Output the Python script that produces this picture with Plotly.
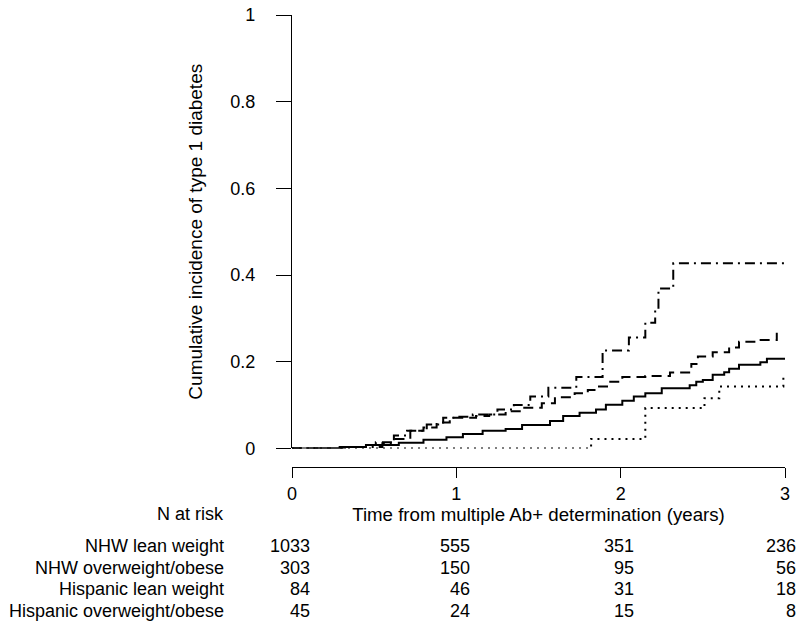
import plotly.graph_objects as go

# ---------------- data ----------------
group_names = ["NHW lean weight", "NHW overweight/obese",
               "Hispanic lean weight", "Hispanic overweight/obese"]

nhw_lean_t = [0, 0.29, 0.45, 0.65, 0.80, 0.94, 1.04, 1.16, 1.30, 1.40, 1.57, 1.65, 1.75,
              1.85, 1.91, 2.01, 2.08, 2.15, 2.25, 2.42, 2.46, 2.50, 2.56, 2.63, 2.66,
              2.72, 2.85, 2.89, 3.0]
nhw_lean_y = [0, 0.003, 0.008, 0.013, 0.020, 0.026, 0.033, 0.041, 0.045, 0.054, 0.063,
              0.075, 0.082, 0.090, 0.101, 0.110, 0.120, 0.127, 0.139, 0.146, 0.154,
              0.158, 0.170, 0.176, 0.184, 0.193, 0.199, 0.207, 0.207]

nhw_ow_t = [0, 0.30, 0.45, 0.51, 0.62, 0.72, 0.80, 0.88, 0.96, 1.12, 1.20, 1.30, 1.40,
            1.52, 1.60, 1.72, 1.80, 1.86, 1.93, 2.01, 2.15, 2.30, 2.43, 2.47, 2.56,
            2.66, 2.72, 2.83, 2.95]
nhw_ow_y = [0, 0.003, 0.008, 0.014, 0.022, 0.041, 0.048, 0.060, 0.071, 0.075, 0.078,
            0.086, 0.094, 0.104, 0.118, 0.127, 0.135, 0.143, 0.154, 0.165, 0.167,
            0.175, 0.195, 0.212, 0.222, 0.233, 0.246, 0.250, 0.267]

hisp_lean_t = [0, 0.35, 0.55, 0.62, 0.70, 0.82, 0.92, 1.00, 1.10, 1.25, 1.35, 1.45,
               1.56, 1.73, 1.89, 2.05, 2.15, 2.21, 2.23, 2.32, 3.0]
hisp_lean_y = [0, 0.003, 0.012, 0.030, 0.041, 0.055, 0.071, 0.073, 0.078, 0.090, 0.100,
               0.120, 0.140, 0.165, 0.226, 0.256, 0.290, 0.320, 0.369, 0.427, 0.427]

hisp_ow_t = [0, 1.82, 2.15, 2.51, 2.60, 2.99]
hisp_ow_y = [0, 0.022, 0.093, 0.116, 0.143, 0.170]

risk_times = [0, 1, 2, 3]
n_risk_nhw_lean = [1033, 555, 351, 236]
n_risk_nhw_ow = [303, 150, 95, 56]
n_risk_hisp_lean = [84, 46, 31, 18]
n_risk_hisp_ow = [45, 24, 15, 8]

y_ticks = [0, 0.2, 0.4, 0.6, 0.8, 1]
y_tick_text = ["0", "0.2", "0.4", "0.6", "0.8", "1"]
x_ticks = [0, 1, 2, 3]

# ---------------- figure ----------------
W, H = 800, 627
ML, MR, MT, MB = 292, 15, 5, 160
FONT = "Liberation Sans, Arial, sans-serif"
FS = 18

def py_to_paper(py):
    return (H - MB - py) / (H - MB - MT)

def px_to_paper(px):
    return (px - ML) / (W - ML - MR)

fig = go.Figure()
series = [
    (nhw_lean_t, nhw_lean_y, "solid"),
    (nhw_ow_t, nhw_ow_y, "10px,6px"),
    (hisp_lean_t, hisp_lean_y, "10px,5px,2px,5px"),
    (hisp_ow_t, hisp_ow_y, "2px,5px"),
]
for (t, y, dash), name in zip(series, group_names):
    fig.add_trace(go.Scatter(x=t, y=y, mode="lines", name=name,
                             line=dict(color="black", width=2, dash=dash, shape="hv")))

# risk table
tables = [n_risk_nhw_lean, n_risk_nhw_ow, n_risk_hisp_lean, n_risk_hisp_ow]
row_py = [548, 570, 592, 614]
digit_w = 10.2
annotations = []
for r, (name, counts) in enumerate(zip(group_names, tables)):
    annotations.append(dict(text=name, xref="paper", yref="paper", x=px_to_paper(226),
                            y=py_to_paper(row_py[r]), xanchor="right", yanchor="middle",
                            showarrow=False, font=dict(size=FS, color="black", family=FONT)))
for c, tt in enumerate(risk_times):
    maxlen = max(len(str(tab[c])) for tab in tables)
    shift = maxlen * digit_w / 2
    # keep the last column inside the page
    right_px = ML + tt / 3 * (W - ML - MR) + shift
    if right_px > 798:
        shift -= right_px - 798
    for r, tab in enumerate(tables):
        annotations.append(dict(text=str(tab[c]), xref="x", yref="paper", x=tt,
                                y=py_to_paper(row_py[r]), xanchor="right", yanchor="middle",
                                xshift=shift, showarrow=False,
                                font=dict(size=FS, color="black", family=FONT)))
annotations.append(dict(text="N at risk", xref="paper", yref="paper", x=px_to_paper(226),
                        y=py_to_paper(515), xanchor="right", yanchor="middle",
                        showarrow=False, font=dict(size=FS, color="black", family=FONT)))

fig.update_layout(
    width=W, height=H,
    margin=dict(l=ML, r=MR, t=MT, b=MB, pad=0),
    paper_bgcolor="white", plot_bgcolor="white",
    showlegend=False,
    font=dict(family=FONT, size=FS, color="black"),
    annotations=annotations,
    xaxis=dict(range=[0, 3], tickvals=x_ticks, ticks="outside", ticklen=10,
               tickwidth=1.3, tickcolor="black", showline=True, linecolor="black",
               linewidth=1.3, showgrid=False, zeroline=False, anchor="free", position=0,
               ticklabeloverflow="allow",
               tickfont=dict(size=FS, family=FONT, color="black"),
               title=dict(text="Time from multiple Ab+ determination (years)",
                          font=dict(size=18.7, family=FONT, color="black"), standoff=2)),
    yaxis=dict(range=[0, 1], domain=[py_to_paper(448), 1], tickvals=y_ticks,
               ticktext=y_tick_text, ticks="outside", ticklen=15, tickwidth=1.3,
               tickcolor="black", showline=True, linecolor="black", linewidth=1.3,
               showgrid=False, zeroline=False, ticklabelstandoff=17,
               ticklabeloverflow="allow",
               tickfont=dict(size=FS, family=FONT, color="black"),
               title=dict(text="Cumulative incidence of type 1 diabetes",
                          font=dict(size=19, family=FONT, color="black"), standoff=22)),
)

fig.write_html("out.html", config={"displayModeBar": False},
               post_script="document.body.style.margin='0';")
